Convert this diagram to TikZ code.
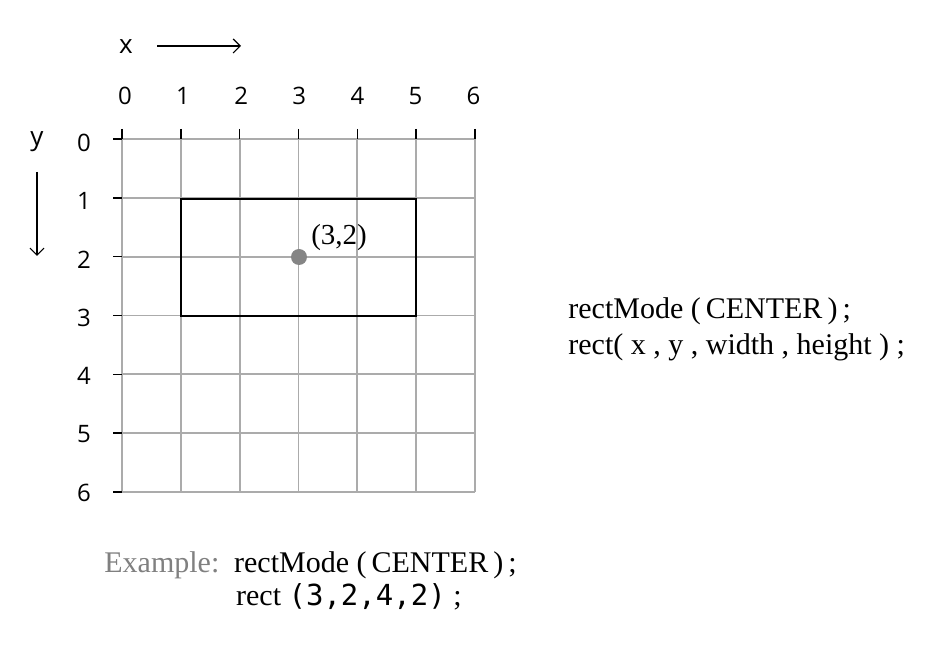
\documentclass[tikz,border=0pt]{standalone}
\usepackage{fontspec}
\setmainfont{Liberation Serif}
\newfontfamily\axisfont{Open Sans}
\newfontfamily\codefont{DejaVu Sans Mono}
\usetikzlibrary{arrows.meta, positioning}

\begin{document}
\begin{tikzpicture}[x=0.5pt, y=-0.5pt]
\tikzset{gridline/.style={draw=black!33, line width=0.9pt},
		tickmark/.style={draw=black, line width=0.8pt},
		axisnum/.style={font=\axisfont\fontsize{12}{14}\selectfont, inner sep=0pt},
		axisname/.style={font=\axisfont\fontsize{13}{15}\selectfont, inner sep=0pt},
		axisarrow/.style={-{Straight Barb[length=3.5pt, width=7pt]}, line width=0.6pt},
		rectline/.style={draw=black, line width=1.2pt},
		dot/.style={circle, fill=black!48, minimum size=8pt, inner sep=0pt},
		pointlabel/.style={font=\fontsize{14.5}{16}\selectfont, inner sep=0pt},
		spec/.style={font=\fontsize{15}{18}\selectfont, inner sep=0pt},
		exword/.style={font=\fontsize{15}{18}\selectfont, text=black!50, inner sep=0pt}}
\useasboundingbox (0,0) rectangle (934,652);
% grid and ticks
\foreach \i in {0,...,6} {
	\draw[gridline] ({122+\i*58.83},139) -- ({122+\i*58.83},492);
	\draw[gridline] (122,{139+\i*58.83}) -- (475,{139+\i*58.83});
	\draw[tickmark] ({122+\i*58.83},129) -- ({122+\i*58.83},139);
	\draw[tickmark] (113,{139+\i*58.83}) -- (122,{139+\i*58.83});
	\node[axisnum] (col\i) at ({125+\i*58.1},96) {\i};
	\node[axisnum] (row\i) at (84,{143+\i*58.3}) {\i};
}
% axis names
\node[axisname] (xname) at (126,47) {x};
\coordinate (xstart) at (157,46);
\coordinate (xend) at (241,46);
\draw[axisarrow] (xstart) -- (xend);
\node[axisname] (yname) at (37,142) {y};
\coordinate (ystart) at (37,172);
\coordinate (yend) at (37,256);
\draw[axisarrow] (ystart) -- (yend);
% the rectangle and its centre
\draw[rectline] (181,199) rectangle (416,316);
\node[dot] (centre) at (299,257) {};
\node[pointlabel, above right=0pt and 3pt of centre] (centrelabel) {(3,2)};
% code
\node[spec, anchor=base west] (spec1) at (568,319) {rectMode (\,CENTER\,)\,;};
\node[spec, anchor=base west] (spec2) at ([yshift=-18pt]spec1.base west) {rect( x , y , width , height ) ;};
\node[exword, anchor=base west] (example) at (104,573) {Example:};
\node[spec, right=7pt of example.base east, anchor=base west] (excode1) {rectMode (\,CENTER\,)\,;};
\node[spec, anchor=base west] (excode2) at ([xshift=1pt, yshift=-16.5pt]excode1.base west) {rect {\codefont\fontsize{14.5}{18}\selectfont(3,2,4,2)} ;};
\end{tikzpicture}
\end{document}
